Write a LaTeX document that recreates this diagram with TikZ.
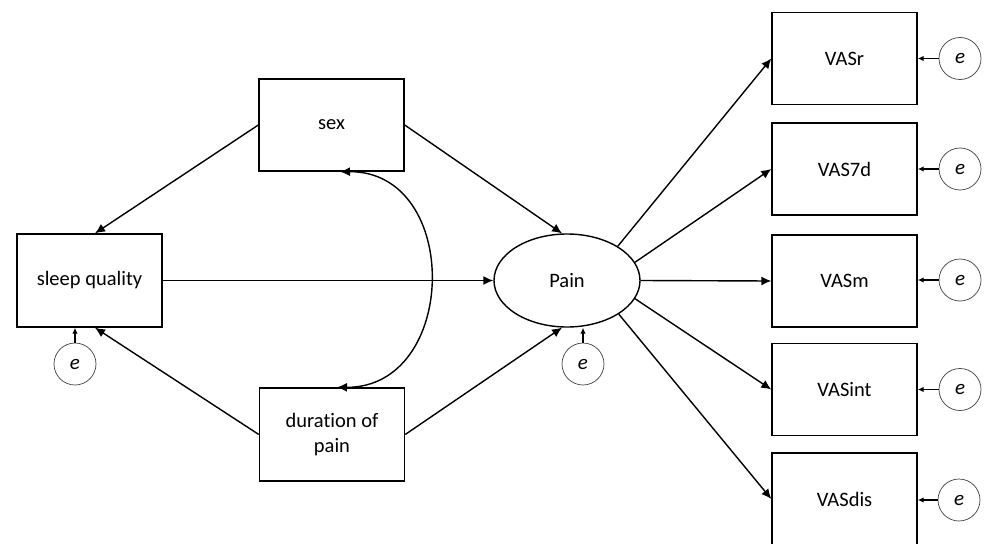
\documentclass[tikz,border=0pt]{standalone}
\usepackage{fontspec}
\setmainfont{Carlito}[Ligatures={NoCommon}]
\usetikzlibrary{arrows.meta,shapes.geometric}
\begin{document}
\begin{tikzpicture}[x=1pt,y=-1pt,
  box/.style={draw, line width=1.4pt, minimum width=145pt, minimum height=92pt, inner sep=0pt, align=center, font=\fontsize{20.5}{25}\selectfont},
  latent/.style={draw, ellipse, line width=1.4pt, minimum width=146pt, minimum height=93pt, inner sep=0pt, font=\fontsize{20.5}{25}\selectfont},
  err/.style={draw, circle, line width=0.7pt, draw=black!75, minimum size=42pt, inner sep=0pt, font=\fontsize{21}{25}\selectfont\itshape},
  arr/.style={line width=1.4pt, -{Latex[length=10pt,width=9pt]}},
  dbl/.style={line width=1.4pt, {Latex[length=10pt,width=9pt]}-{Latex[length=10pt,width=9pt]}},
  earr/.style={line width=1.4pt, -{Latex[length=6pt,width=5.5pt]}}]
\useasboundingbox (0,0) rectangle (984,543);
\fill[white] (0,0) rectangle (984,543);
\begin{scope}
\clip (0,0) rectangle (984,543);
% observed variables
\node[box] (sex) at (331.5,125) {sex};
\node[box, minimum height=93pt] (sleep) at (89.5,280.5) {sleep quality};
\node[box, minimum height=93pt] (dur) at (332,434.5) {duration of\\pain};
\node[latent] (P) at (567,280.5) {Pain};
\node[box] (VASr) at (844.5,58.5) {VASr};
\node[box] (VAS7d) at (844.5,169) {VAS7d};
\node[box] (VASm) at (844.5,281) {VASm};
\node[box] (VASint) at (844.5,389.5) {VASint};
\node[box] (VASdis) at (844.5,499) {VASdis};
% error terms
\node[err] (e1) at (960,58.5) {e};
\node[err] (e2) at (960,169) {e};
\node[err] (e3) at (960,280) {e};
\node[err] (e4) at (960,389.5) {e};
\node[err] (e5) at (959,500) {e};
\node[err] (es) at (75,364) {e};
\node[err] (ep) at (583,364) {e};
% structural paths
\draw[arr] (sex.west) -- ([xshift=5.5pt]sleep.north);
\draw[arr] (dur.west) -- ([xshift=5.5pt]sleep.south);
\draw[arr] (sleep.east) -- (P.west);
\draw[arr] (sex.east) -- (P.96);
\draw[arr] (dur.east) -- (P.264);
\draw[dbl] ([xshift=8.5pt]sex.south) .. controls (462,171) and (459,388) .. ([xshift=5pt]dur.north);
% measurement paths
\draw[arr] (P.34) -- (VASr.west);
\draw[arr] (P.15) -- (VAS7d.west);
\draw[arr] (P.east) -- (VASm.west);
\draw[arr] (P.-15) -- (VASint.west);
\draw[arr] (P.-33) -- (VASdis.west);
% error paths
\draw[earr] (e1) -- (VASr.east);
\draw[earr] (e2) -- (VAS7d.east);
\draw[earr] (e3) -- (e3 -| VASm.east);
\draw[earr] (e4) -- (VASint.east);
\draw[earr] (e5) -- (e5 -| VASdis.east);
\draw[earr] (es) -- (es |- sleep.south);
\draw[earr] (ep) -- (ep |- P.south);
\end{scope}
\end{tikzpicture}
\end{document}
